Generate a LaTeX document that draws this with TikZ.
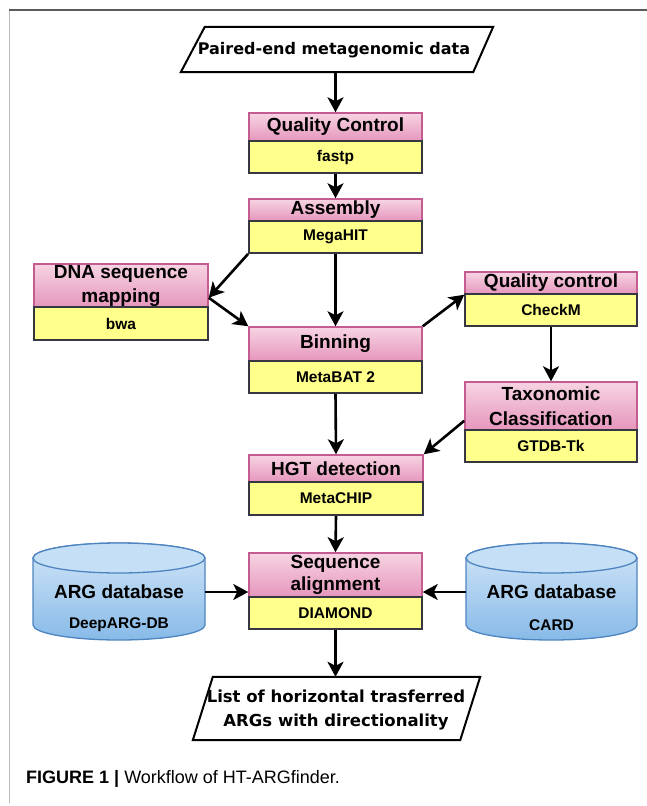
\documentclass[tikz,border=0pt]{standalone}
\usepackage{fontspec}
\setmainfont{Liberation Sans}
\newfontfamily\dejavu{DejaVu Sans}
\usetikzlibrary{arrows.meta,calc}
\definecolor{pinkT}{RGB}{247,212,227}
\definecolor{pinkB}{RGB}{229,150,188}
\definecolor{pinkD}{RGB}{196,92,146}
\definecolor{yel}{RGB}{255,255,140}
\definecolor{toolD}{RGB}{55,55,65}
\definecolor{blueT}{RGB}{212,231,248}
\definecolor{blueB}{RGB}{135,186,232}
\definecolor{blueD}{RGB}{78,132,192}
\definecolor{blueE}{RGB}{196,223,246}
\definecolor{frameA}{RGB}{90,90,90}
\definecolor{frameB}{RGB}{185,185,185}
\begin{document}
\begin{tikzpicture}[x=1pt,y=-1pt,
  hdr/.style={draw=pinkD, line width=1.5pt, top color=pinkT, bottom color=pinkB,
    inner sep=0pt, align=center, text=black,
    font=\bfseries\fontsize{19}{24}\selectfont},
  tool/.style={draw=toolD, line width=1.8pt, fill=yel, inner sep=0pt, text=black,
    font=\bfseries\fontsize{15.5}{18}\selectfont},
  arr/.style={line width=2.6pt, -{Stealth[length=15pt,width=16pt,inset=4pt]}},
  parshape/.style={draw=black, line width=2pt, fill=white, line join=miter},
  ptext/.style={inner sep=0pt, align=center, text=black,
    font=\dejavu\bfseries\fontsize{16}{24}\selectfont},
  cyl/.style={draw=blueD, line width=1.3pt, top color=blueT, bottom color=blueB},
  cyltop/.style={draw=blueD, line width=1.3pt, fill=blueE},
  dbtitle/.style={inner sep=0pt, text=black, font=\bfseries\fontsize{19}{22}\selectfont},
  dbsub/.style={inner sep=0pt, text=black, font=\bfseries\fontsize{15.5}{18}\selectfont},
  capt/.style={inner sep=0pt, anchor=west, text=black, font=\fontsize{18}{22}\selectfont}
]
\useasboundingbox (0,0) rectangle (647,806);
% frame
\draw[frameB, line width=1.6pt] (9.5,10) -- (9.5,803);
\draw[frameA, line width=1.6pt] (9,10) -- (647,10);

% input parallelogram
\node[minimum width=312, minimum height=45, inner sep=0pt] (in) at (337,49.5) {};
\draw[parshape] (in.south west) -- ($(in.north west)+(24,0)$) -- (in.north east) -- ($(in.south east)+(-20,0)$) -- cycle;
\node[ptext] (intext) at (334,50) {Paired-end metagenomic data};

% boxes
\node[hdr, minimum width=173, minimum height=28] (qc) at (335.5,127) {Quality Control};
\node[tool, minimum width=173, minimum height=32] (qct) at (335.5,157) {fastp};

\node[hdr, minimum width=173, minimum height=22] (asm) at (335.5,210) {Assembly};
\node[tool, minimum width=173, minimum height=32] (asmt) at (335.5,237) {MegaHIT};

\node[hdr, minimum width=174, minimum height=43] (dna) at (121,285.5) {DNA sequence\\mapping};
\node[tool, minimum width=174, minimum height=33] (dnat) at (121,323.5) {bwa};

\node[hdr, minimum width=173, minimum height=34] (bin) at (335.5,344) {Binning};
\node[tool, minimum width=173, minimum height=32] (bint) at (335.5,377) {MetaBAT 2};

\node[hdr, minimum width=172, minimum height=22] (qc2) at (551,283) {Quality control};
\node[tool, minimum width=172, minimum height=32] (qc2t) at (551,310) {CheckM};

\node[hdr, minimum width=172, minimum height=48, font=\bfseries\fontsize{19}{25}\selectfont] (tax) at (551,406) {Taxonomic\\Classification};
\node[tool, minimum width=172, minimum height=32] (taxt) at (551,446) {GTDB-Tk};

\node[hdr, minimum width=174, minimum height=27] (hgt) at (336,468.5) {HGT detection};
\node[tool, minimum width=174, minimum height=33] (hgtt) at (336,498.5) {MetaCHIP};

\node[hdr, minimum width=173, minimum height=44, font=\bfseries\fontsize{19}{22}\selectfont] (seq) at (335.5,575) {Sequence\\alignment};
\node[tool, minimum width=173, minimum height=32] (seqt) at (335.5,613) {DIAMOND};

% databases
\draw[cyl] (33,558) -- (33,625) arc[start angle=180, end angle=0, x radius=86, y radius=15]
  -- (205,558) arc[start angle=0, end angle=-180, x radius=86, y radius=15] -- cycle;
\draw[cyltop] (119,558) ellipse[x radius=86, y radius=15];
\node[dbtitle, minimum width=172] (db1) at (119,592) {ARG database};
\node[dbsub] (db1s) at (119,625) {DeepARG-DB};

\draw[cyl] (466,558) -- (466,625) arc[start angle=180, end angle=0, x radius=85.5, y radius=15]
  -- (637,558) arc[start angle=0, end angle=-180, x radius=85.5, y radius=15] -- cycle;
\draw[cyltop] (551.5,558) ellipse[x radius=85.5, y radius=15];
\node[dbtitle, minimum width=171] (db2) at (551.5,592) {ARG database};
\node[dbsub] (db2s) at (551.5,625) {CARD};

% output parallelogram
\node[minimum width=287, minimum height=63, inner sep=0pt] (out) at (336.5,708.5) {};
\draw[parshape] (out.south west) -- ($(out.north west)+(20,0)$) -- (out.north east) -- ($(out.south east)+(-20,0)$) -- cycle;
\node[ptext, font=\dejavu\bfseries\fontsize{16.5}{24}\selectfont] (outtext) at (336,710) {List of horizontal trasferred\\ARGs with directionality};

% caption
\node[capt] (cap) at (26,778.5) {\textbf{FIGURE 1 |} Workflow of HT-ARGfinder.};

% connectors
\draw[arr] (in.south -| qc.north) -- (qc.north);
\draw[arr] (qct.south) -- (asm.north);
\draw[arr] (asmt.south west) -- ([yshift=10pt]dna.south east);
\draw[arr] ([yshift=10pt]dna.south east) -- (bin.north west);
\draw[arr] (asmt.south) -- (bin.north);
\draw[arr] (bin.north east) -- (qc2.south west);
\draw[arr] (qc2t.south) -- (tax.north);
\draw[arr] ([yshift=10pt]tax.south west) -- (hgt.north east);
\draw[arr] (bint.south) -- (hgt.north);
\draw[arr] (hgtt.south) -- (seq.north);
\draw[arr] (db1.east) -- (db1.east -| seq.west);
\draw[arr] (db2.west) -- (db2.west -| seq.east);
\draw[arr] (seqt.south) -- (seqt.south |- out.north);
\end{tikzpicture}
\end{document}
